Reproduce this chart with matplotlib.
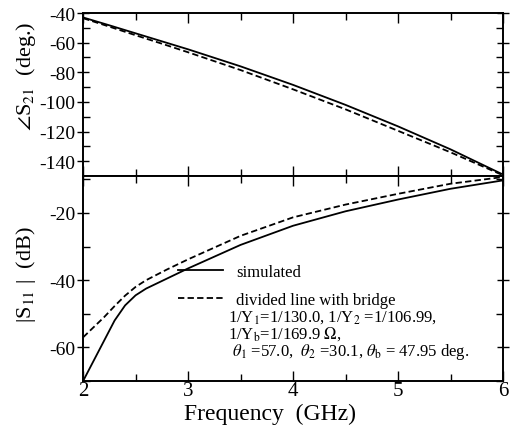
import matplotlib
matplotlib.use('Agg')
import matplotlib.pyplot as plt
from matplotlib.ticker import MultipleLocator

plt.rcParams['font.family'] = ['Liberation Serif', 'DejaVu Serif']
plt.rcParams['mathtext.fontset'] = 'stix'
plt.rcParams['axes.unicode_minus'] = False

# S21 phase (deg.)
freq_ph = [2.0, 2.25, 2.5, 2.75, 3.0, 3.5, 4.0, 4.5, 5.0, 5.5, 6.0]
s21_sim = [-43.0, -48.3, -53.7, -59.1, -64.5, -76.0, -88.5, -102.0, -116.5, -132.0, -149.0]
s21_div = [-43.5, -49.2, -55.0, -60.7, -66.5, -78.5, -91.5, -105.0, -119.5, -134.0, -149.5]

# |S11| (dB)
freq_mag = [2.0, 2.1, 2.2, 2.3, 2.4, 2.5, 2.6, 2.8, 3.0, 3.5, 4.0, 4.5, 5.0, 5.5, 6.0]
s11_sim = [-70.0, -64.0, -58.0, -52.0, -47.5, -44.5, -42.5, -39.5, -36.5, -29.5, -23.8, -19.5, -16.0, -12.8, -10.3]
s11_div = [-57.0, -54.0, -51.0, -47.7, -44.6, -42.0, -40.0, -36.8, -33.8, -26.8, -21.3, -17.5, -14.3, -11.3, -9.3]

fig = plt.figure(figsize=(5.13, 4.31), dpi=100)
ax1 = fig.add_axes([0.162, 0.5893, 0.8185, 0.3782])
ax2 = fig.add_axes([0.162, 0.1137, 0.8185, 0.4756])

lw = 1.3
ax1.plot(freq_ph, s21_sim, color='black', lw=lw)
ax1.plot(freq_ph, s21_div, color='black', lw=lw, dashes=(3.5, 1.8))
ax2.plot(freq_mag, s11_sim, color='black', lw=lw, label='simulated')
ax2.plot(freq_mag, s11_div, color='black', lw=lw, dashes=(3.5, 1.8), label='divided line with bridge')

ax1.set_xlim(2, 6)
ax1.set_ylim(-150, -40)
ax2.set_xlim(2, 6)
ax2.set_ylim(-70, -9)

for ax in (ax1, ax2):
    for s in ax.spines.values():
        s.set_linewidth(1.4)
    ax.xaxis.set_major_locator(MultipleLocator(1))
    ax.xaxis.set_minor_locator(MultipleLocator(0.5))
    ax.yaxis.set_major_locator(MultipleLocator(20))
    ax.yaxis.set_minor_locator(MultipleLocator(10))
    ax.tick_params(which='both', direction='in', top=True, right=True, width=1.0, labelsize=14)
    ax.tick_params(which='major', length=7)
    ax.tick_params(which='minor', length=5)
    ax.tick_params(axis='y', which='major', direction='inout', length=9, pad=1)

ax1.tick_params(axis='x', labelbottom=False)
ax2.tick_params(axis='x', pad=0, labelsize=15)
ax2.set_yticks([-20, -40, -60])

ax1.set_ylabel(r'$\angle$S$_{21}$  (deg.)', fontsize=16)
ax2.set_ylabel(r'|S$_{11}$ |  (dB)', fontsize=16)
ax1.yaxis.set_label_coords(-0.107, 0.62)
ax2.yaxis.set_label_coords(-0.107, 0.524)
ax2.set_xlabel('Frequency  (GHz)', fontsize=17, labelpad=0)
ax2.xaxis.set_label_coords(0.445, -0.105)

ax2.legend(loc='upper left', bbox_to_anchor=(0.225, 0.572), frameon=False,
           handlelength=2.7, handletextpad=0.8, labelspacing=0.75, fontsize=12,
           borderaxespad=0, borderpad=0)

params = (r'1/Y$_1$=1/130.0, 1/Y$_2$ =1/106.99,' '\n'
          r'1/Y$_\mathrm{b}$=1/169.9 $\Omega$,' '\n'
          r' $\theta_1$ =57.0,  $\theta_2$ =30.1, $\theta_\mathrm{b}$ = 47.95 deg.')
ax2.text(0.345, 0.226, params, transform=ax2.transAxes, fontsize=12,
         va='center', ha='left', linespacing=0.92)

plt.savefig('out.png', dpi=100)
